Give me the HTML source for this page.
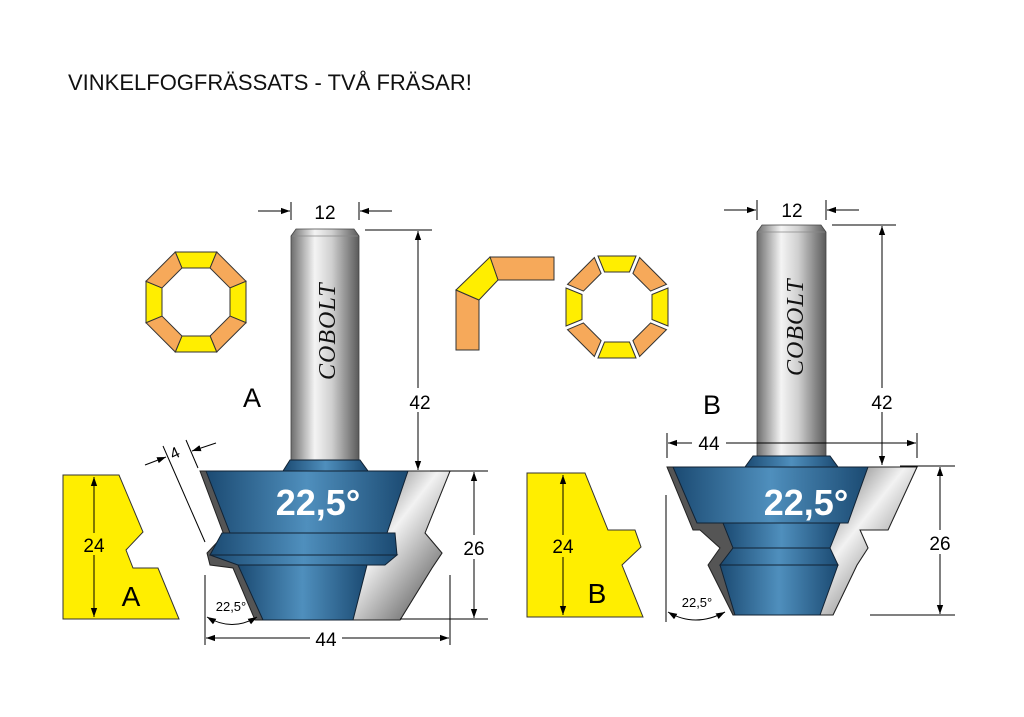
<!DOCTYPE html>
<html><head><meta charset="utf-8"><style>
html,body{margin:0;padding:0;background:#fff;}
svg{display:block;}
text{font-family:"Liberation Sans",sans-serif;}
text.cob{font-family:"Liberation Serif",serif;font-style:italic;}
</style></head><body>
<svg width="1024" height="717" viewBox="0 0 1024 717" xmlns="http://www.w3.org/2000/svg">
<defs>
<linearGradient id="sh" x1="0" x2="1" y1="0" y2="0">
<stop offset="0" stop-color="#6d6d6d"/><stop offset="0.35" stop-color="#f4f4f4"/><stop offset="0.6" stop-color="#cfcfcf"/><stop offset="1" stop-color="#5a5a5a"/></linearGradient>
<linearGradient id="bl" x1="0" x2="1" y1="0" y2="0">
<stop offset="0" stop-color="#1b4a72"/><stop offset="0.5" stop-color="#4f8fbd"/><stop offset="1" stop-color="#1b4a72"/></linearGradient>
<linearGradient id="gr" x1="0" x2="1" y1="0" y2="1">
<stop offset="0" stop-color="#2a2a2a"/><stop offset="0.45" stop-color="#f2f2f2"/><stop offset="1" stop-color="#3a3a3a"/></linearGradient>
<marker id="ar" viewBox="0 0 10 10" refX="10" refY="5" markerWidth="9" markerHeight="9" orient="auto-start-reverse" markerUnits="userSpaceOnUse"><path d="M0,1.5 L10,5 L0,8.5 z" fill="#000"/></marker>
</defs>

<text x="68" y="90" font-size="22" fill="#111">VINKELFOGFRÄSSATS - TVÅ FRÄSAR!</text>

<!-- left octagon -->
<g transform="translate(196,302)" stroke="#333" stroke-width="1">
<polygon points="-20.7,-50 20.7,-50 14.1,-34 -14.1,-34" fill="#ffee00"/>
<polygon transform="rotate(45)" points="-20.7,-50 20.7,-50 14.1,-34 -14.1,-34" fill="#f6a95a"/>
<polygon transform="rotate(90)" points="-20.7,-50 20.7,-50 14.1,-34 -14.1,-34" fill="#ffee00"/>
<polygon transform="rotate(135)" points="-20.7,-50 20.7,-50 14.1,-34 -14.1,-34" fill="#f6a95a"/>
<polygon transform="rotate(180)" points="-20.7,-50 20.7,-50 14.1,-34 -14.1,-34" fill="#ffee00"/>
<polygon transform="rotate(225)" points="-20.7,-50 20.7,-50 14.1,-34 -14.1,-34" fill="#f6a95a"/>
<polygon transform="rotate(270)" points="-20.7,-50 20.7,-50 14.1,-34 -14.1,-34" fill="#ffee00"/>
<polygon transform="rotate(315)" points="-20.7,-50 20.7,-50 14.1,-34 -14.1,-34" fill="#f6a95a"/>
</g>

<!-- corner joint -->
<g stroke="#333" stroke-width="1">
<polygon points="490,257 554,257 554,280 498,280" fill="#f6a95a"/>
<polygon points="456,290 479,300 479,350 456,350" fill="#f6a95a"/>
<polygon points="490,257 498,280 479,300 456,290" fill="#ffee00"/>
</g>

<!-- right exploded octagon -->
<g transform="translate(617,307)" stroke="#333" stroke-width="1">
<polygon transform="translate(0,-3)" points="-19,-48 19,-48 12.5,-32 -12.5,-32" fill="#ffee00"/>
<polygon transform="rotate(45) translate(0,-3)" points="-19,-48 19,-48 12.5,-32 -12.5,-32" fill="#f6a95a"/>
<polygon transform="rotate(90) translate(0,-3)" points="-19,-48 19,-48 12.5,-32 -12.5,-32" fill="#ffee00"/>
<polygon transform="rotate(135) translate(0,-3)" points="-19,-48 19,-48 12.5,-32 -12.5,-32" fill="#f6a95a"/>
<polygon transform="rotate(180) translate(0,-3)" points="-19,-48 19,-48 12.5,-32 -12.5,-32" fill="#ffee00"/>
<polygon transform="rotate(225) translate(0,-3)" points="-19,-48 19,-48 12.5,-32 -12.5,-32" fill="#f6a95a"/>
<polygon transform="rotate(270) translate(0,-3)" points="-19,-48 19,-48 12.5,-32 -12.5,-32" fill="#ffee00"/>
<polygon transform="rotate(315) translate(0,-3)" points="-19,-48 19,-48 12.5,-32 -12.5,-32" fill="#f6a95a"/>
</g>

<!-- profiles -->
<polygon points="63,475 119,475 143,532 126,550 133,568 158,568 179,619 63,619" fill="#ffee00" stroke="#333"/>
<polygon points="527,473 585,473 608,530 635,530 641,547 622,565 643,617 527,617" fill="#ffee00" stroke="#333"/>
<line x1="94" y1="477" x2="94" y2="617" stroke="#000" marker-start="url(#ar)" marker-end="url(#ar)"/>
<rect x="80" y="533" width="28" height="22" fill="#ffee00"/>
<text x="94" y="552" font-size="19" text-anchor="middle">24</text>
<text x="131" y="606" font-size="28" text-anchor="middle">A</text>
<line x1="563" y1="475" x2="563" y2="615" stroke="#000" marker-start="url(#ar)" marker-end="url(#ar)"/>
<rect x="549" y="535" width="28" height="22" fill="#ffee00"/>
<text x="563" y="553" font-size="19" text-anchor="middle">24</text>
<text x="597" y="603" font-size="28" text-anchor="middle">B</text>

<!-- CUTTER A -->
<path d="M291,236 L296,229 L354,229 L359,236 L359,469 L291,469 Z" fill="url(#sh)" stroke="#444" stroke-width="0.8"/>
<line x1="292" y1="236" x2="358" y2="236" stroke="#888" stroke-width="0.8"/>
<text class="cob" transform="translate(335,380) rotate(-90)" font-size="24" fill="#111" letter-spacing="1">COBOLT</text>
<polygon points="200,471 450,471 425,533 442,553 432,568 400,620 255,620 233,568 210,565 207,553 224,535" fill="#555" stroke="#222"/>
<polygon points="335,471 450,471 425,533 442,553 432,568 400,620 335,620" fill="url(#gr)" stroke="#222"/>
<polygon points="283,471 290,460 360,460 368,471" fill="url(#bl)" stroke="#123"/>
<polygon points="206,471 408,471 387,533 230,533" fill="url(#bl)" stroke="#123"/>
<polygon points="222,533 395,533 397,555 210,555" fill="url(#bl)" stroke="#123"/>
<polygon points="210,555 397,555 385,565 238,565" fill="url(#bl)" stroke="#123"/>
<polygon points="238,565 367,565 353,620 263,620" fill="url(#bl)" stroke="#123"/>
<text x="318" y="515" font-size="36" font-weight="bold" fill="#fff" text-anchor="middle">22,5°</text>
<text x="252" y="407" font-size="27" text-anchor="middle">A</text>

<!-- dims A -->
<g stroke="#000" stroke-width="1" fill="none">
<line x1="291" y1="202" x2="291" y2="220"/><line x1="359" y1="202" x2="359" y2="220"/>
<line x1="258" y1="211" x2="290" y2="211" marker-end="url(#ar)"/>
<line x1="392" y1="211" x2="360" y2="211" marker-end="url(#ar)"/>
<line x1="365" y1="230" x2="432" y2="230"/>
<line x1="418" y1="231" x2="418" y2="470" marker-start="url(#ar)" marker-end="url(#ar)"/>
<line x1="430" y1="471" x2="488" y2="471"/><line x1="400" y1="619" x2="488" y2="619"/>
<line x1="474" y1="472" x2="474" y2="618" marker-start="url(#ar)" marker-end="url(#ar)"/>
<line x1="205" y1="575" x2="205" y2="645"/><line x1="450" y1="575" x2="450" y2="645"/>
<line x1="206" y1="638" x2="449" y2="638" marker-start="url(#ar)" marker-end="url(#ar)"/>
<line x1="163" y1="446" x2="205" y2="542"/><line x1="186" y1="440" x2="198" y2="468"/>
<line x1="145" y1="465" x2="166" y2="457" marker-end="url(#ar)"/>
<line x1="216" y1="443" x2="192" y2="451" marker-end="url(#ar)"/>
<path d="M207,617 Q232,632 257,617" marker-start="url(#ar)" marker-end="url(#ar)"/>
</g>
<rect x="405" y="388" width="28" height="24" fill="#fff"/>
<text x="420" y="409" font-size="19" text-anchor="middle">42</text>
<text x="325" y="219" font-size="19" text-anchor="middle">12</text>
<rect x="460" y="535" width="30" height="24" fill="#fff"/>
<text x="474" y="555" font-size="19" text-anchor="middle">26</text>
<rect x="310" y="628" width="32" height="20" fill="#fff"/>
<text x="326" y="646" font-size="19" text-anchor="middle">44</text>
<text transform="translate(177,458) rotate(-25)" font-size="16" text-anchor="middle">4</text>
<text x="231" y="611" font-size="13" text-anchor="middle">22,5°</text>

<!-- CUTTER B -->
<path d="M757,232 L762,225 L821,225 L826,232 L826,470 L757,470 Z" fill="url(#sh)" stroke="#444" stroke-width="0.8"/>
<line x1="758" y1="232" x2="825" y2="232" stroke="#888" stroke-width="0.8"/>
<text class="cob" transform="translate(803,376) rotate(-90)" font-size="24" fill="#111" letter-spacing="1">COBOLT</text>
<polygon points="667,467 917,467 888,530 860,530 868,548 857,565 833,615 733,615 708,565 720,548 700,530 693,530" fill="#555" stroke="#222"/>
<polygon points="800,467 917,467 888,530 860,530 868,548 857,565 833,615 800,615" fill="url(#gr)" stroke="#222"/>
<polygon points="745,467 753,456 830,456 838,467" fill="url(#bl)" stroke="#123"/>
<polygon points="673,467 868,467 848,523 697,523" fill="url(#bl)" stroke="#123"/>
<polygon points="723,523 840,523 830,548 733,548" fill="url(#bl)" stroke="#123"/>
<polygon points="733,548 830,548 838,565 720,565" fill="url(#bl)" stroke="#123"/>
<polygon points="720,565 838,565 820,615 735,615" fill="url(#bl)" stroke="#123"/>
<text x="806" y="515" font-size="36" font-weight="bold" fill="#fff" text-anchor="middle">22,5°</text>
<text x="712" y="414" font-size="27" text-anchor="middle">B</text>

<g stroke="#000" stroke-width="1" fill="none">
<line x1="757" y1="200" x2="757" y2="220"/><line x1="826" y1="200" x2="826" y2="220"/>
<line x1="724" y1="210" x2="756" y2="210" marker-end="url(#ar)"/>
<line x1="859" y1="210" x2="827" y2="210" marker-end="url(#ar)"/>
<line x1="832" y1="225" x2="896" y2="225"/>
<line x1="882" y1="226" x2="882" y2="465" marker-start="url(#ar)" marker-end="url(#ar)"/>
<line x1="667" y1="433" x2="667" y2="458"/><line x1="917" y1="433" x2="917" y2="458"/>
<line x1="668" y1="443" x2="916" y2="443" marker-start="url(#ar)" marker-end="url(#ar)"/>
<line x1="900" y1="466" x2="955" y2="466"/><line x1="870" y1="615" x2="955" y2="615"/>
<line x1="940" y1="467" x2="940" y2="614" marker-start="url(#ar)" marker-end="url(#ar)"/>
<line x1="666" y1="495" x2="666" y2="622"/>
<path d="M668,612 Q695,628 725,612" marker-start="url(#ar)" marker-end="url(#ar)"/>
</g>
<rect x="869" y="388" width="28" height="24" fill="#fff"/>
<text x="882" y="409" font-size="19" text-anchor="middle">42</text>
<text x="792" y="217" font-size="19" text-anchor="middle">12</text>
<rect x="692" y="432" width="34" height="22" fill="#fff"/>
<text x="709" y="450" font-size="19" text-anchor="middle">44</text>
<rect x="925" y="530" width="30" height="24" fill="#fff"/>
<text x="940" y="550" font-size="19" text-anchor="middle">26</text>
<text x="697" y="607" font-size="13" text-anchor="middle">22,5°</text>
</svg>
</body></html>
